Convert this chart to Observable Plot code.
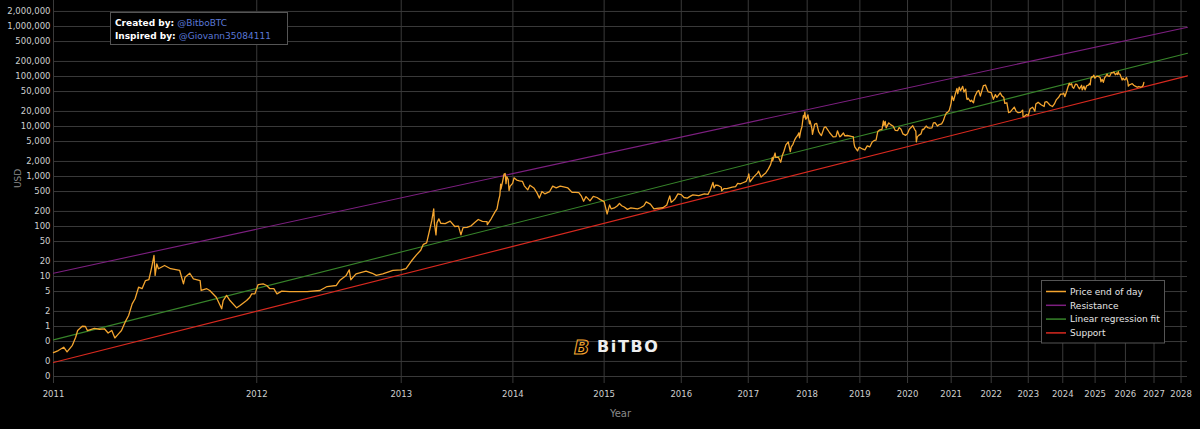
<!DOCTYPE html>
<html><head><meta charset="utf-8">
<script src="https://cdn.jsdelivr.net/npm/d3@7"></script>
<script src="https://cdn.jsdelivr.net/npm/@observablehq/plot@0.6"></script>
<style>html,body{margin:0;padding:0;background:#000;}#chart{width:1200px;height:429px;}</style>
</head><body><div id="chart"></div>
<script>
// ---------- data ----------
const genesisDate = "2009-01-03";
const xDomainDates = ["2011-01-01", "2028-03-31"];
const yearLabels = ["2011","2012","2013","2014","2015","2016","2017","2018","2019","2020","2021","2022","2023","2024","2025","2026","2027","2028"];
const yTickValues = [0.1,0.2,0.5,1,2,5,10,20,50,100,200,500,1000,2000,5000,10000,20000,50000,100000,200000,500000,1000000,2000000];
const yTickLabels = ["0","0","0","1","2","5","10","20","50","100","200","500","1,000","2,000","5,000","10,000","20,000","50,000","100,000","200,000","500,000","1,000,000","2,000,000"];
const yDomain = [0.0724, 3310000];
const seriesNames = ["Price end of day","Resistance","Linear regression fit","Support"];
const bandNames = ["Resistance","Linear regression fit","Support"];
const bandStartUSD = [11.6, 0.54, 0.19];
const bandEndUSD = [968000, 292000, 103000];
const priceSeries = [
["2011-01-01",0.30],["2011-01-08",0.33],["2011-01-16",0.385],["2011-01-21",0.31],["2011-01-29",0.42],["2011-02-03",0.61],["2011-02-06",0.83],["2011-02-13",1.01],["2011-02-18",1.0],["2011-02-21",0.83],["2011-03-04",0.92],["2011-03-12",0.88],["2011-03-20",0.9],["2011-03-26",0.74],["2011-04-01",0.83],["2011-04-06",0.59],["2011-04-12",0.71],["2011-04-17",0.83],["2011-04-23",1.22],["2011-04-29",1.66],["2011-05-05",2.84],["2011-05-10",3.58],["2011-05-16",6.1],["2011-05-22",5.7],["2011-05-28",8.3],["2011-06-03",8.7],["2011-06-08",15.4],["2011-06-12",26.3],["2011-06-14",10.5],["2011-06-17",17.9],["2011-06-20",14.3],["2011-07-01",16.6],["2011-07-12",14.3],["2011-07-29",13.2],["2011-08-05",7.1],["2011-08-08",9.7],["2011-08-17",11.6],["2011-08-24",9.0],["2011-09-06",8.3],["2011-09-08",5.25],["2011-09-19",5.7],["2011-09-25",5.25],["2011-10-08",3.85],["2011-10-19",2.26],["2011-10-22",3.3],["2011-10-29",4.2],["2011-11-05",3.3],["2011-11-19",2.36],["2011-11-26",2.63],["2011-12-10",3.3],["2011-12-17",3.85],["2011-12-21",4.5],["2011-12-28",4.5],
["2012-01-04",6.9],["2012-01-15",7.1],["2012-01-23",6.6],["2012-01-30",5.7],["2012-02-08",5.7],["2012-02-15",4.5],["2012-02-26",5.1],["2012-03-15",5.0],["2012-04-10",5.0],["2012-04-26",5.0],["2012-05-27",5.25],["2012-06-14",6.3],["2012-07-07",6.6],["2012-07-16",8.3],["2012-08-02",10.5],["2012-08-10",13.6],["2012-08-14",8.6],["2012-08-28",11.3],["2012-09-24",12.8],["2012-10-11",11.6],["2012-10-22",10.5],["2012-11-09",11.3],["2012-12-08",13.2],["2013-01-01",13.5],
["2013-01-15",14.3],["2013-01-31",20.4],["2013-02-15",27],["2013-02-28",33.4],["2013-03-08",44],["2013-03-18",47],["2013-03-28",89],["2013-04-03",132],["2013-04-09",226],["2013-04-11",115],["2013-04-13",95],["2013-04-16",68],["2013-04-19",118],["2013-04-25",142],["2013-05-01",116],["2013-05-15",114],["2013-05-31",128],["2013-06-15",100],["2013-06-27",102],["2013-07-05",68],["2013-07-12",95],["2013-07-25",96],["2013-08-08",103],["2013-08-20",120],["2013-09-01",138],["2013-09-15",127],["2013-10-01",125],["2013-10-02",109],["2013-10-15",141],["2013-10-28",192],["2013-11-05",225],["2013-11-10",320],["2013-11-15",420],["2013-11-18",700],["2013-11-19",560],["2013-11-25",800],["2013-11-30",1120],["2013-12-04",1150],["2013-12-07",720],["2013-12-10",990],["2013-12-15",870],["2013-12-18",525],["2013-12-22",640],["2013-12-31",730],
["2014-01-05",940],["2014-01-15",850],["2014-01-25",820],["2014-02-05",800],["2014-02-12",650],["2014-02-25",540],["2014-03-05",670],["2014-03-20",590],["2014-04-01",470],["2014-04-10",370],["2014-04-20",500],["2014-05-01",450],["2014-05-20",500],["2014-06-01",640],["2014-06-15",590],["2014-07-01",640],["2014-07-15",620],["2014-08-01",590],["2014-08-18",480],["2014-09-01",480],["2014-09-15",475],["2014-09-25",410],["2014-10-05",320],["2014-10-15",395],["2014-11-01",325],["2014-11-15",400],["2014-12-01",380],["2014-12-15",345],
["2015-01-01",314],["2015-01-14",178],["2015-01-25",270],["2015-02-01",225],["2015-02-15",235],["2015-03-01",260],["2015-03-10",290],["2015-03-20",260],["2015-04-01",245],["2015-04-15",220],["2015-05-01",235],["2015-06-01",225],["2015-06-15",237],["2015-07-01",260],["2015-07-12",310],["2015-08-01",280],["2015-08-18",225],["2015-09-01",230],["2015-10-01",237],["2015-10-20",270],["2015-11-04",410],["2015-11-11",305],["2015-11-20",325],["2015-12-01",360],["2015-12-15",450],
["2016-01-01",433],["2016-01-15",380],["2016-02-01",370],["2016-02-15",400],["2016-03-01",430],["2016-04-01",415],["2016-05-01",450],["2016-05-20",440],["2016-06-01",530],["2016-06-16",760],["2016-06-22",590],["2016-07-01",675],["2016-07-15",660],["2016-08-01",610],["2016-08-03",515],["2016-08-15",570],["2016-09-01",570],["2016-10-01",610],["2016-10-20",630],["2016-11-01",730],["2016-11-15",710],["2016-12-01",750],["2016-12-20",800],
["2017-01-01",1000],["2017-01-04",1130],["2017-01-11",780],["2017-02-01",970],["2017-02-24",1170],["2017-03-03",1280],["2017-03-18",970],["2017-04-01",1080],["2017-04-15",1180],["2017-05-01",1420],["2017-05-15",1750],["2017-05-25",2400],["2017-05-27",2050],["2017-06-11",2950],["2017-06-15",2400],["2017-07-01",2450],["2017-07-16",1930],["2017-07-25",2600],["2017-08-05",3200],["2017-08-17",4300],["2017-09-01",4900],["2017-09-14",3150],["2017-09-20",3900],["2017-10-01",4400],["2017-10-12",5400],["2017-10-20",6000],["2017-11-01",6700],["2017-11-08",7450],["2017-11-12",5950],["2017-11-20",8200],["2017-11-28",9900],["2017-12-07",16500],["2017-12-10",15000],["2017-12-17",19300],["2017-12-22",14000],["2017-12-28",14500],
["2018-01-06",17100],["2018-01-16",11300],["2018-01-20",12900],["2018-02-01",9200],["2018-02-05",6950],["2018-02-20",11200],["2018-03-05",11500],["2018-03-18",7900],["2018-04-01",6800],["2018-04-06",6600],["2018-04-25",9600],["2018-05-05",9800],["2018-05-20",8500],["2018-06-01",7500],["2018-06-25",6200],["2018-07-15",6300],["2018-07-25",8200],["2018-08-10",6200],["2018-08-15",6300],["2018-09-05",7400],["2018-09-15",6500],["2018-10-01",6600],["2018-11-01",6350],["2018-11-14",6300],["2018-11-20",4500],["2018-11-25",3900],["2018-12-15",3250],["2018-12-25",3800],
["2019-01-01",3800],["2019-01-20",3550],["2019-02-07",3400],["2019-02-24",4100],["2019-03-15",3900],["2019-04-02",4900],["2019-04-20",5300],["2019-05-01",5350],["2019-05-14",7900],["2019-05-30",8600],["2019-06-15",8800],["2019-06-26",12900],["2019-07-01",10500],["2019-07-10",12600],["2019-07-17",9400],["2019-08-06",11800],["2019-08-20",10900],["2019-09-10",10100],["2019-09-25",8400],["2019-10-15",8300],["2019-10-26",9550],["2019-11-10",8800],["2019-11-25",7100],["2019-12-17",6650],
["2020-01-01",7200],["2020-01-15",8800],["2020-02-12",10350],["2020-02-28",8700],["2020-03-08",8100],["2020-03-12",4950],["2020-03-20",6200],["2020-04-01",6650],["2020-04-20",7100],["2020-05-01",8800],["2020-05-10",8700],["2020-06-01",10200],["2020-06-15",9450],["2020-07-01",9230],["2020-07-20",9400],["2020-08-01",11800],["2020-08-15",11900],["2020-09-05",10200],["2020-09-20",10900],["2020-10-10",11300],["2020-10-25",13000],["2020-11-05",15600],["2020-11-20",18700],["2020-12-01",19200],["2020-12-16",21300],
["2021-01-01",29400],["2021-01-08",40600],["2021-01-22",33000],["2021-02-08",46200],["2021-02-21",57500],["2021-02-28",45200],["2021-03-13",61200],["2021-03-25",52000],["2021-04-13",63500],["2021-04-25",49000],["2021-05-10",56000],["2021-05-19",37000],["2021-05-23",34700],["2021-06-01",36700],["2021-06-21",31600],["2021-07-01",33500],["2021-07-20",29800],["2021-08-01",39800],["2021-08-22",49300],["2021-09-06",52700],["2021-09-21",40700],["2021-10-01",48200],["2021-10-20",66000],["2021-11-08",67500],["2021-11-26",53700],["2021-12-04",49200],["2021-12-15",48900],
["2022-01-01",47700],["2022-01-22",35000],["2022-02-10",43500],["2022-02-24",38300],["2022-03-28",47100],["2022-04-15",40500],["2022-05-01",38500],["2022-05-12",29000],["2022-06-01",29800],["2022-06-18",19000],["2022-07-01",19300],["2022-07-15",20800],["2022-08-13",24400],["2022-09-01",20100],["2022-09-20",18900],["2022-10-15",19100],["2022-11-05",21300],["2022-11-09",15900],["2022-11-21",15800],["2022-12-15",17400],
["2023-01-01",16600],["2023-01-20",22700],["2023-02-15",24300],["2023-03-10",20200],["2023-03-20",28200],["2023-04-13",30400],["2023-05-10",27600],["2023-06-15",25100],["2023-06-23",30700],["2023-07-13",31400],["2023-08-17",26600],["2023-09-11",25100],["2023-10-01",27900],["2023-10-24",34500],["2023-11-15",37900],["2023-12-08",44200],
["2024-01-01",44200],["2024-01-11",46600],["2024-01-23",39500],["2024-02-15",51800],["2024-02-28",62500],["2024-03-13",73100],["2024-03-20",67900],["2024-04-08",71600],["2024-04-17",61300],["2024-05-01",58200],["2024-05-21",70100],["2024-06-07",69300],["2024-06-24",60300],["2024-07-05",56700],["2024-07-29",66800],["2024-08-05",54000],["2024-08-25",64200],["2024-09-06",53900],["2024-09-27",65800],["2024-10-15",67000],["2024-10-29",72700],["2024-11-05",67800],["2024-11-12",88700],["2024-11-22",98900],["2024-12-05",98800],["2024-12-17",106100],["2024-12-30",92300],
["2025-01-07",96900],["2025-01-20",101100],["2025-02-01",100600],["2025-02-20",98300],["2025-03-02",94200],["2025-03-10",78500],["2025-03-25",87500],["2025-04-08",76300],["2025-04-22",93400],["2025-05-10",103000],["2025-05-22",111700],["2025-06-05",101600],["2025-06-22",100900],["2025-07-14",119800],["2025-07-30",117800],["2025-08-13",123300],["2025-08-30",108400],["2025-09-18",117100],["2025-09-25",109000],["2025-10-06",124700],["2025-10-10",113200],["2025-10-25",111600],["2025-11-04",101600],["2025-11-21",85000],["2025-12-03",93000],["2025-12-18",85500],
["2026-01-01",87500],["2026-01-14",95500],["2026-01-31",78000],["2026-02-06",64000],["2026-02-20",68000],["2026-03-10",70000],["2026-03-27",72000],["2026-04-15",67000],["2026-05-05",64000],["2026-05-29",61000],["2026-06-20",63000],["2026-07-10",61000],["2026-08-01",63000],["2026-08-12",66000],["2026-08-22",76000]
];

// ---------- styles ----------
const colors = {price:"#f4a52f", resistance:"#7d1f80", regression:"#37842a", support:"#d8291f", grid:"#3a3a3a", tick:"#cfcfcf", title:"#8a8a8a", link:"#5a78d6"};
const bandColors = [colors.resistance, colors.regression, colors.support];
const font = "'DejaVu Sans', Verdana, sans-serif";

// ---------- derived ----------
const g0 = Date.parse(genesisDate);
const toDays = s => (Date.parse(s) - g0) / 864e5;
const xDomain = xDomainDates.map(toDays);
const yearDays = yearLabels.map(y => toDays(y + "-01-01"));
const yearTicks = yearDays.map((d, i) => ({d, label: yearLabels[i]}));
const yTicks = yTickValues.map((v, i) => ({v, label: yTickLabels[i]}));
const price = priceSeries.map(([d, v]) => ({days: toDays(d), usd: v}));
const bands = bandNames.map((name, i) => [
  {days: xDomain[0], usd: bandStartUSD[i]},
  {days: xDomain[1], usd: bandEndUSD[i]}
]);

const chart = Plot.plot({
  width: 1200, height: 429,
  marginLeft: 53, marginRight: 13, marginTop: 0, marginBottom: 46,
  style: {background: "#000", color: colors.tick, fontFamily: font, fontSize: "8.5px", overflow: "visible"},
  x: {type: "log", domain: xDomain, axis: null},
  y: {type: "log", domain: yDomain, axis: null},
  marks: [
    Plot.gridX(yearDays, {stroke: colors.grid, strokeOpacity: 1}),
    Plot.gridY(yTickValues, {stroke: colors.grid, strokeOpacity: 1}),
    Plot.text(yearTicks, {x: "d", text: "label", frameAnchor: "bottom", dy: 13, fill: colors.tick, fontSize: 8.5}),
    Plot.text(yTicks, {y: "v", text: "label", frameAnchor: "left", dx: -3, textAnchor: "end", fill: colors.tick, fontSize: 8.5}),
    Plot.text(["USD"], {frameAnchor: "left", dx: -35, dy: -4, rotate: -90, fill: colors.title, fontSize: 9}),
    Plot.text(["Year"], {frameAnchor: "bottom", dy: 33, fill: colors.title, fontSize: 10}),
    ...bands.map((b, i) => Plot.line(b, {x: "days", y: "usd", stroke: bandColors[i], strokeWidth: 1.1})),
    Plot.line(price, {x: "days", y: "usd", stroke: colors.price, strokeWidth: 1.3, strokeLinejoin: "round"})
  ]
});
document.getElementById("chart").appendChild(chart);

const svg = d3.select(chart);

// Logo
const logo = svg.append("g").attr("font-family", font).attr("text-anchor", "start");
logo.append("text").attr("x", 574).attr("y", 353.5).text("B")
  .attr("font-size", 20).attr("font-weight", "bold").attr("fill", "none")
  .attr("stroke", colors.price).attr("stroke-width", 1.1).attr("font-style", "italic");
logo.append("text").attr("x", 597).attr("y", 352).text("BiTBO")
  .attr("font-size", 16).attr("font-weight", "bold").attr("letter-spacing", 1.6).attr("fill", "#eeeeee");

// Credits annotation
const ann = svg.append("g").attr("font-family", font).attr("font-size", 9).attr("text-anchor", "start");
ann.append("rect").attr("x", 110.5).attr("y", 12.5).attr("width", 177).attr("height", 32)
  .attr("fill", "#000").attr("stroke", "#555").attr("stroke-width", 1);
const t1 = ann.append("text").attr("x", 115).attr("y", 26);
t1.append("tspan").attr("font-weight", "bold").attr("fill", "#fff").text("Created by: ");
t1.append("tspan").attr("fill", colors.link).text("@BitboBTC");
const t2 = ann.append("text").attr("x", 115).attr("y", 38.5);
t2.append("tspan").attr("font-weight", "bold").attr("fill", "#fff").text("Inspired by: ");
t2.append("tspan").attr("fill", colors.link).text("@Giovann35084111");

// Legend
const legendColors = [colors.price, colors.resistance, colors.regression, colors.support];
const lg = svg.append("g").attr("font-family", font).attr("font-size", 9).attr("text-anchor", "start");
lg.append("rect").attr("x", 1041.5).attr("y", 280.5).attr("width", 123).attr("height", 62.5)
  .attr("fill", "#000").attr("stroke", "#555").attr("stroke-width", 1);
seriesNames.forEach((name, i) => {
  const y = 291.5 + i * 13.8;
  lg.append("line").attr("x1", 1046).attr("x2", 1066).attr("y1", y).attr("y2", y)
    .attr("stroke", legendColors[i]).attr("stroke-width", 1.5);
  lg.append("text").attr("x", 1070).attr("y", y + 3.2).attr("fill", "#e6e6e6").text(name);
});
</script>
</body></html>
